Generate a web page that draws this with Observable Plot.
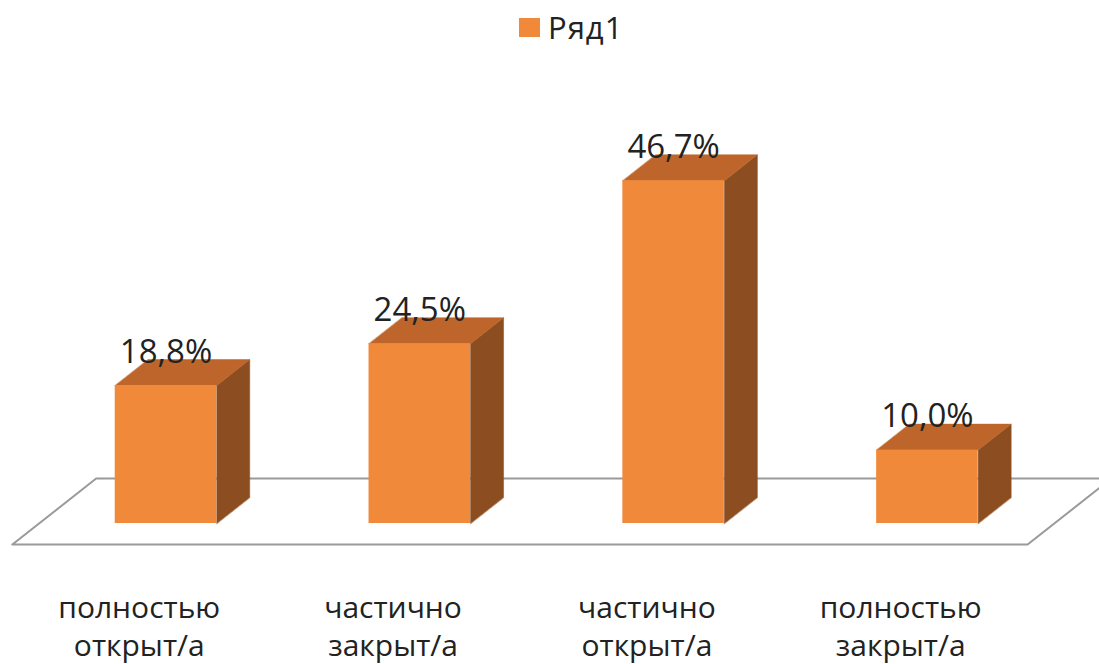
<!DOCTYPE html>
<html>
<head>
<meta charset="utf-8">
<script src="https://cdn.jsdelivr.net/npm/d3@7"></script>
<script src="https://cdn.jsdelivr.net/npm/@observablehq/plot@0.6"></script>
<style>
  html, body { margin: 0; padding: 0; background: #fff; }
  #legend { height: 54px; display: flex; justify-content: flex-start; align-items: center;
            padding-left: 519px; box-sizing: border-box; font-family: "Open Sans", sans-serif;
            font-size: 31px; color: #222; letter-spacing: 1px; }
  #legend .sw { width: 21px; height: 19px; margin-right: 8px; }
  #chart svg { display: block; overflow: visible; }
</style>
</head>
<body>
<div id="legend"></div>
<div id="chart"></div>
<script>
// ---- data ----
const categories = ["полностью\nоткрыт/а", "частично\nзакрыт/а", "частично\nоткрыт/а", "полностью\nзакрыт/а"];
const values = [18.8, 24.5, 46.7, 10.0];
const valueLabels = ["18,8%", "24,5%", "46,7%", "10,0%"];
const seriesName = "Ряд1";

// ---- styling / layout ----
const frontColor = "#F0893A";
const topColor = "#BD652A";
const sideColor = "#8C4E20";
const floorColor = "#9a9a9a";
const textColor = "#222";
const half = 0.2;        // half bar width (x units)
const depthX = 0.13;     // 3D depth offset in x units
const depthY = 3.54;     // 3D depth offset in y units
const floorFront = -0.81, floorBack = 1.73; // floor depth extent
const floorX1 = -0.5, floorX2 = categories.length - 0.5;

// legend
const lg = document.getElementById("legend");
const sw = document.createElement("div"); sw.className = "sw"; sw.style.background = frontColor;
const lt = document.createElement("span"); lt.textContent = seriesName;
lg.append(sw, lt);

const rows = values.map((v, i) => ({i, v, cat: categories[i], label: valueLabels[i]}));

const floor = [
  [floorX1, floorFront], [floorX2, floorFront], [floorX2, floorBack], [floorX1, floorBack]
].map(([x, d]) => ({x: x + d * depthX, y: d * depthY}));

const tops = rows.flatMap(({i, v}) => [
  [i - half, v], [i + half, v], [i + half + depthX, v + depthY], [i - half + depthX, v + depthY]
].map(([x, y]) => ({i, x, y})));

const sides = rows.flatMap(({i, v}) => [
  [i + half, 0], [i + half, v], [i + half + depthX, v + depthY], [i + half + depthX, depthY]
].map(([x, y]) => ({i, x, y})));

const chart = Plot.plot({
  width: 1099,
  height: 610,
  marginLeft: 0,
  marginRight: 0,
  marginTop: 28.6,
  marginBottom: 141,
  x: {domain: [-0.652, 3.678], axis: null},
  y: {domain: [0, 60], axis: null},
  style: {fontFamily: "Open Sans, sans-serif", background: "white"},
  marks: [
    Plot.line(floor, {x: "x", y: "y", curve: "linear-closed", stroke: floorColor, strokeWidth: 2, fill: "white"}),
    Plot.line(sides, {x: "x", y: "y", z: "i", curve: "linear-closed", fill: sideColor, stroke: sideColor, strokeWidth: 0.5}),
    Plot.line(tops, {x: "x", y: "y", z: "i", curve: "linear-closed", fill: topColor, stroke: topColor, strokeWidth: 0.5}),
    Plot.rect(rows, {x1: d => d.i - half, x2: d => d.i + half, y1: 0, y2: "v", fill: frontColor}),
    Plot.text(rows, {x: "i", y: d => d.v + depthY, text: "label", lineAnchor: "bottom", dy: 3,
                     fontSize: 33, fill: textColor}),
    Plot.text(rows, {x: d => d.i + floorFront * depthX, y: floorFront * depthY, text: "cat",
                     lineAnchor: "top", dy: 46, fontSize: 30, lineHeight: 1.27, fill: textColor})
  ]
});
document.getElementById("chart").append(chart);
</script>
</body>
</html>
